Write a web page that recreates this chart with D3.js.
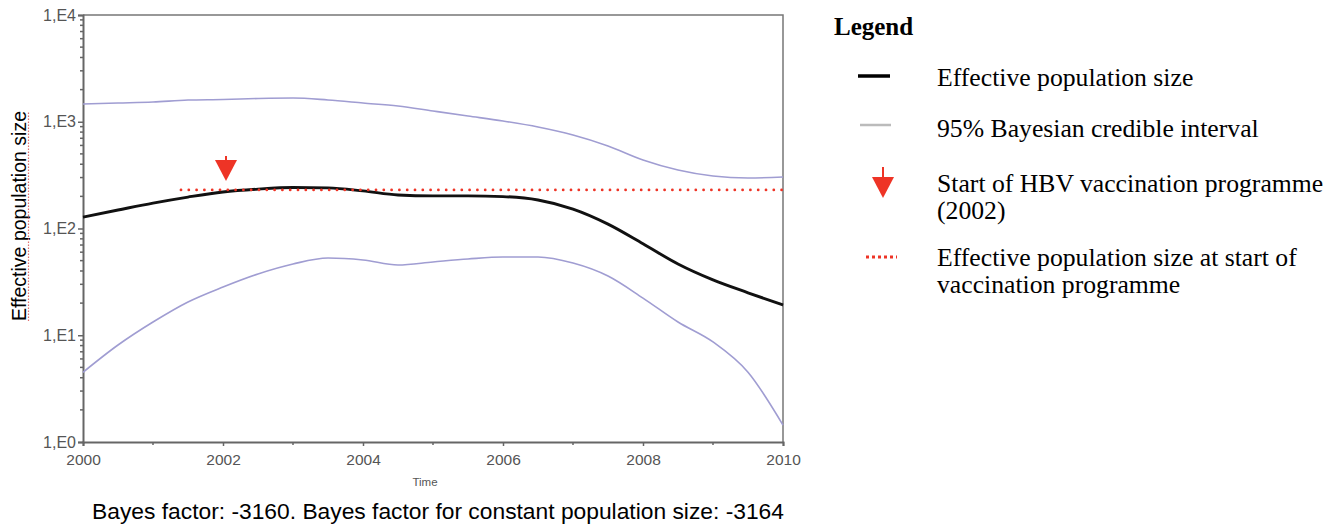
<!DOCTYPE html>
<html>
<head>
<meta charset="utf-8">
<script src="https://cdn.jsdelivr.net/npm/d3@7"></script>
<style>
body { margin: 0; background: #fff; }
</style>
</head>
<body>
<svg id="chart"></svg>
<script>
// skyline values (half-year steps)
const years = [2000, 2000.5, 2001, 2001.5, 2002, 2002.5, 2003, 2003.5, 2004, 2004.5, 2005,
    2005.5, 2006, 2006.5, 2007, 2007.5, 2008, 2008.5, 2009, 2009.5, 2010];
const median = [128, 149, 173, 197, 220, 234, 242, 240, 225, 206, 202,
    202, 199, 185, 152, 110, 72, 46.5, 33, 25, 19.2];
const upper = [1466, 1498, 1531, 1598, 1616, 1651, 1669, 1598, 1498, 1404, 1261,
    1132, 1016, 893, 751, 593, 438, 353, 310, 297, 304];
const lower = [4.5, 8.1, 13.3, 20.5, 28.3, 37.5, 46.5, 52.9, 50.7, 45.5, 48.6,
    51.8, 54.1, 54.1, 47.5, 35.9, 22.3, 13.3, 8.65, 4.5, 1.44];

const yTicks = [1, 10, 100, 1000, 10000];
const xTicks = [2000, 2002, 2004, 2006, 2008, 2010];
const xMinor = [2001, 2003, 2005, 2007, 2009];

const startYear = 2002;      // HBV vaccination programme
const startNe = 230;         // Ne at start of programme
const refLineFrom = 2001.4;

const legendItems = [
    { kind: "median", text: ["Effective population size"] },
    { kind: "ci", text: ["95% Bayesian credible interval"] },
    { kind: "arrow", text: ["Start of HBV vaccination programme", "(2002)"] },
    { kind: "dots", text: ["Effective population size at start of", "vaccination programme"] }
];

const width = 1336, height = 525;
const svg = d3.select("#chart").attr("width", width).attr("height", height);

const x = d3.scaleLinear().domain([2000, 2010]).range([83, 783]);
const y = d3.scaleLog().domain([1, 10000]).range([442, 15]);

const red = "#ee3426";
const ciColor = "#a09dd2";
const axisColor = "#666";
const sans = "Liberation Sans, Arial, sans-serif";
const serif = "Liberation Serif, Times New Roman, serif";

// frame (top + right)
svg.append("path")
    .attr("d", `M${x(2000)},${y(10000)}H${x(2010)}V${y(1)}`)
    .attr("fill", "none")
    .attr("stroke", "#777")
    .attr("stroke-width", 1.5);

// y axis
const yAxis = svg.append("g")
    .attr("transform", `translate(${x(2000)},0)`)
    .call(d3.axisLeft(y).tickValues(yTicks).tickSize(5).tickPadding(2)
        .tickFormat(d => "1,E" + Math.round(Math.log10(d))));
yAxis.select(".domain").attr("stroke", axisColor).attr("stroke-width", 2);
yAxis.selectAll(".tick line").attr("stroke", axisColor).attr("stroke-width", 1.5);
yAxis.selectAll(".tick text")
    .attr("fill", "#555")
    .style("font-family", sans)
    .style("font-size", "16px");

// minor log ticks
const minorY = [];
for (let e = 0; e < 4; e++) for (let m = 2; m <= 9; m++) minorY.push(m * Math.pow(10, e));
svg.append("g").selectAll("line").data(minorY).join("line")
    .attr("x1", x(2000) - 3).attr("x2", x(2000))
    .attr("y1", d => y(d)).attr("y2", d => y(d))
    .attr("stroke", axisColor).attr("stroke-width", 1.5);

// x axis
const xAxis = svg.append("g")
    .attr("transform", `translate(0,${y(1)})`)
    .call(d3.axisBottom(x).tickValues(xTicks).tickSize(4).tickPadding(8).tickFormat(d3.format("d")));
xAxis.select(".domain").attr("stroke", axisColor).attr("stroke-width", 2);
xAxis.selectAll(".tick line").attr("stroke", axisColor).attr("stroke-width", 1.5);
xAxis.selectAll(".tick text")
    .attr("fill", "#555")
    .style("font-family", sans)
    .style("font-size", "15.5px");
svg.append("g").selectAll("line").data(xMinor).join("line")
    .attr("x1", d => x(d)).attr("x2", d => x(d))
    .attr("y1", y(1)).attr("y2", y(1) + 3)
    .attr("stroke", axisColor).attr("stroke-width", 1.5);

svg.append("text")
    .attr("x", 425).attr("y", 486)
    .attr("text-anchor", "middle")
    .attr("fill", "#555")
    .style("font-family", sans)
    .style("font-size", "11.5px")
    .text("Time");

// y title with spell-check style underline
const yTitle = svg.append("g").attr("transform", "translate(26,216) rotate(-90)");
const yTitleText = yTitle.append("text")
    .attr("text-anchor", "middle")
    .attr("fill", "#000")
    .style("font-family", sans)
    .style("font-size", "19.5px")
    .text("Effective population size");
const tl = yTitleText.node().getComputedTextLength();
yTitle.append("line")
    .attr("x1", -tl / 2).attr("x2", tl / 2)
    .attr("y1", 2.5).attr("y2", 2.5)
    .attr("stroke", "#e07070").attr("stroke-width", 1.2)
    .attr("stroke-dasharray", "1.5,1.5");

// lines
const line = vals => d3.line()
    .x((d, i) => x(years[i]))
    .y(d => y(d))
    .curve(d3.curveMonotoneX)(vals);

svg.append("path").attr("d", line(upper))
    .attr("fill", "none").attr("stroke", ciColor).attr("stroke-width", 1.6);
svg.append("path").attr("d", line(lower))
    .attr("fill", "none").attr("stroke", ciColor).attr("stroke-width", 1.6);
svg.append("path").attr("d", line(median))
    .attr("fill", "none").attr("stroke", "#111").attr("stroke-width", 2.9);

// reference dotted line
svg.append("line")
    .attr("x1", x(refLineFrom)).attr("x2", x(2010) + 3)
    .attr("y1", y(startNe)).attr("y2", y(startNe))
    .attr("stroke", red).attr("stroke-width", 2.8)
    .attr("stroke-linecap", "round")
    .attr("stroke-dasharray", "0,7.8");

function arrow(g, cx, tipY, stem) {
    g.append("line")
        .attr("x1", cx).attr("x2", cx)
        .attr("y1", tipY - 21 - stem).attr("y2", tipY - 19)
        .attr("stroke", red).attr("stroke-width", 2);
    g.append("path")
        .attr("d", `M${cx - 11},${tipY - 21}L${cx + 11},${tipY - 21}L${cx},${tipY}Z`)
        .attr("fill", red);
}
arrow(svg, x(startYear) + 3, y(startNe) - 9, 4);

// caption
svg.append("text")
    .attr("x", 438).attr("y", 519)
    .attr("text-anchor", "middle")
    .attr("fill", "#000")
    .style("font-family", sans)
    .style("font-size", "22.8px")
    .text("Bayes factor: -3160. Bayes factor for constant population size: -3164");

// legend
svg.append("text")
    .attr("x", 834).attr("y", 35)
    .style("font-family", serif)
    .style("font-size", "25px")
    .style("font-weight", "bold")
    .text("Legend");

const swatchY = [76, 125, 198, 257];
const textY = [86, 137, 192, 266];
const leg = svg.append("g");
legendItems.forEach((item, i) => {
    const cy = swatchY[i];
    const g = leg.append("g");
    if (item.kind === "median") {
        g.append("line").attr("x1", 858).attr("x2", 890).attr("y1", cy).attr("y2", cy)
            .attr("stroke", "#000").attr("stroke-width", 3.5);
    } else if (item.kind === "ci") {
        g.append("line").attr("x1", 860).attr("x2", 891).attr("y1", cy).attr("y2", cy)
            .attr("stroke", "#bbb").attr("stroke-width", 2.5);
    } else if (item.kind === "arrow") {
        arrow(g, 883, cy, 10);
    } else {
        g.append("line").attr("x1", 866).attr("x2", 897).attr("y1", cy).attr("y2", cy)
            .attr("stroke", red).attr("stroke-width", 3)
            .attr("stroke-dasharray", "3,3");
    }
    item.text.forEach((t, j) => {
        g.append("text")
            .attr("x", 937).attr("y", textY[i] + j * 26.5)
            .style("font-family", serif)
            .style("font-size", "25.7px")
            .attr("fill", "#000")
            .text(t);
    });
});
</script>
</body>
</html>
